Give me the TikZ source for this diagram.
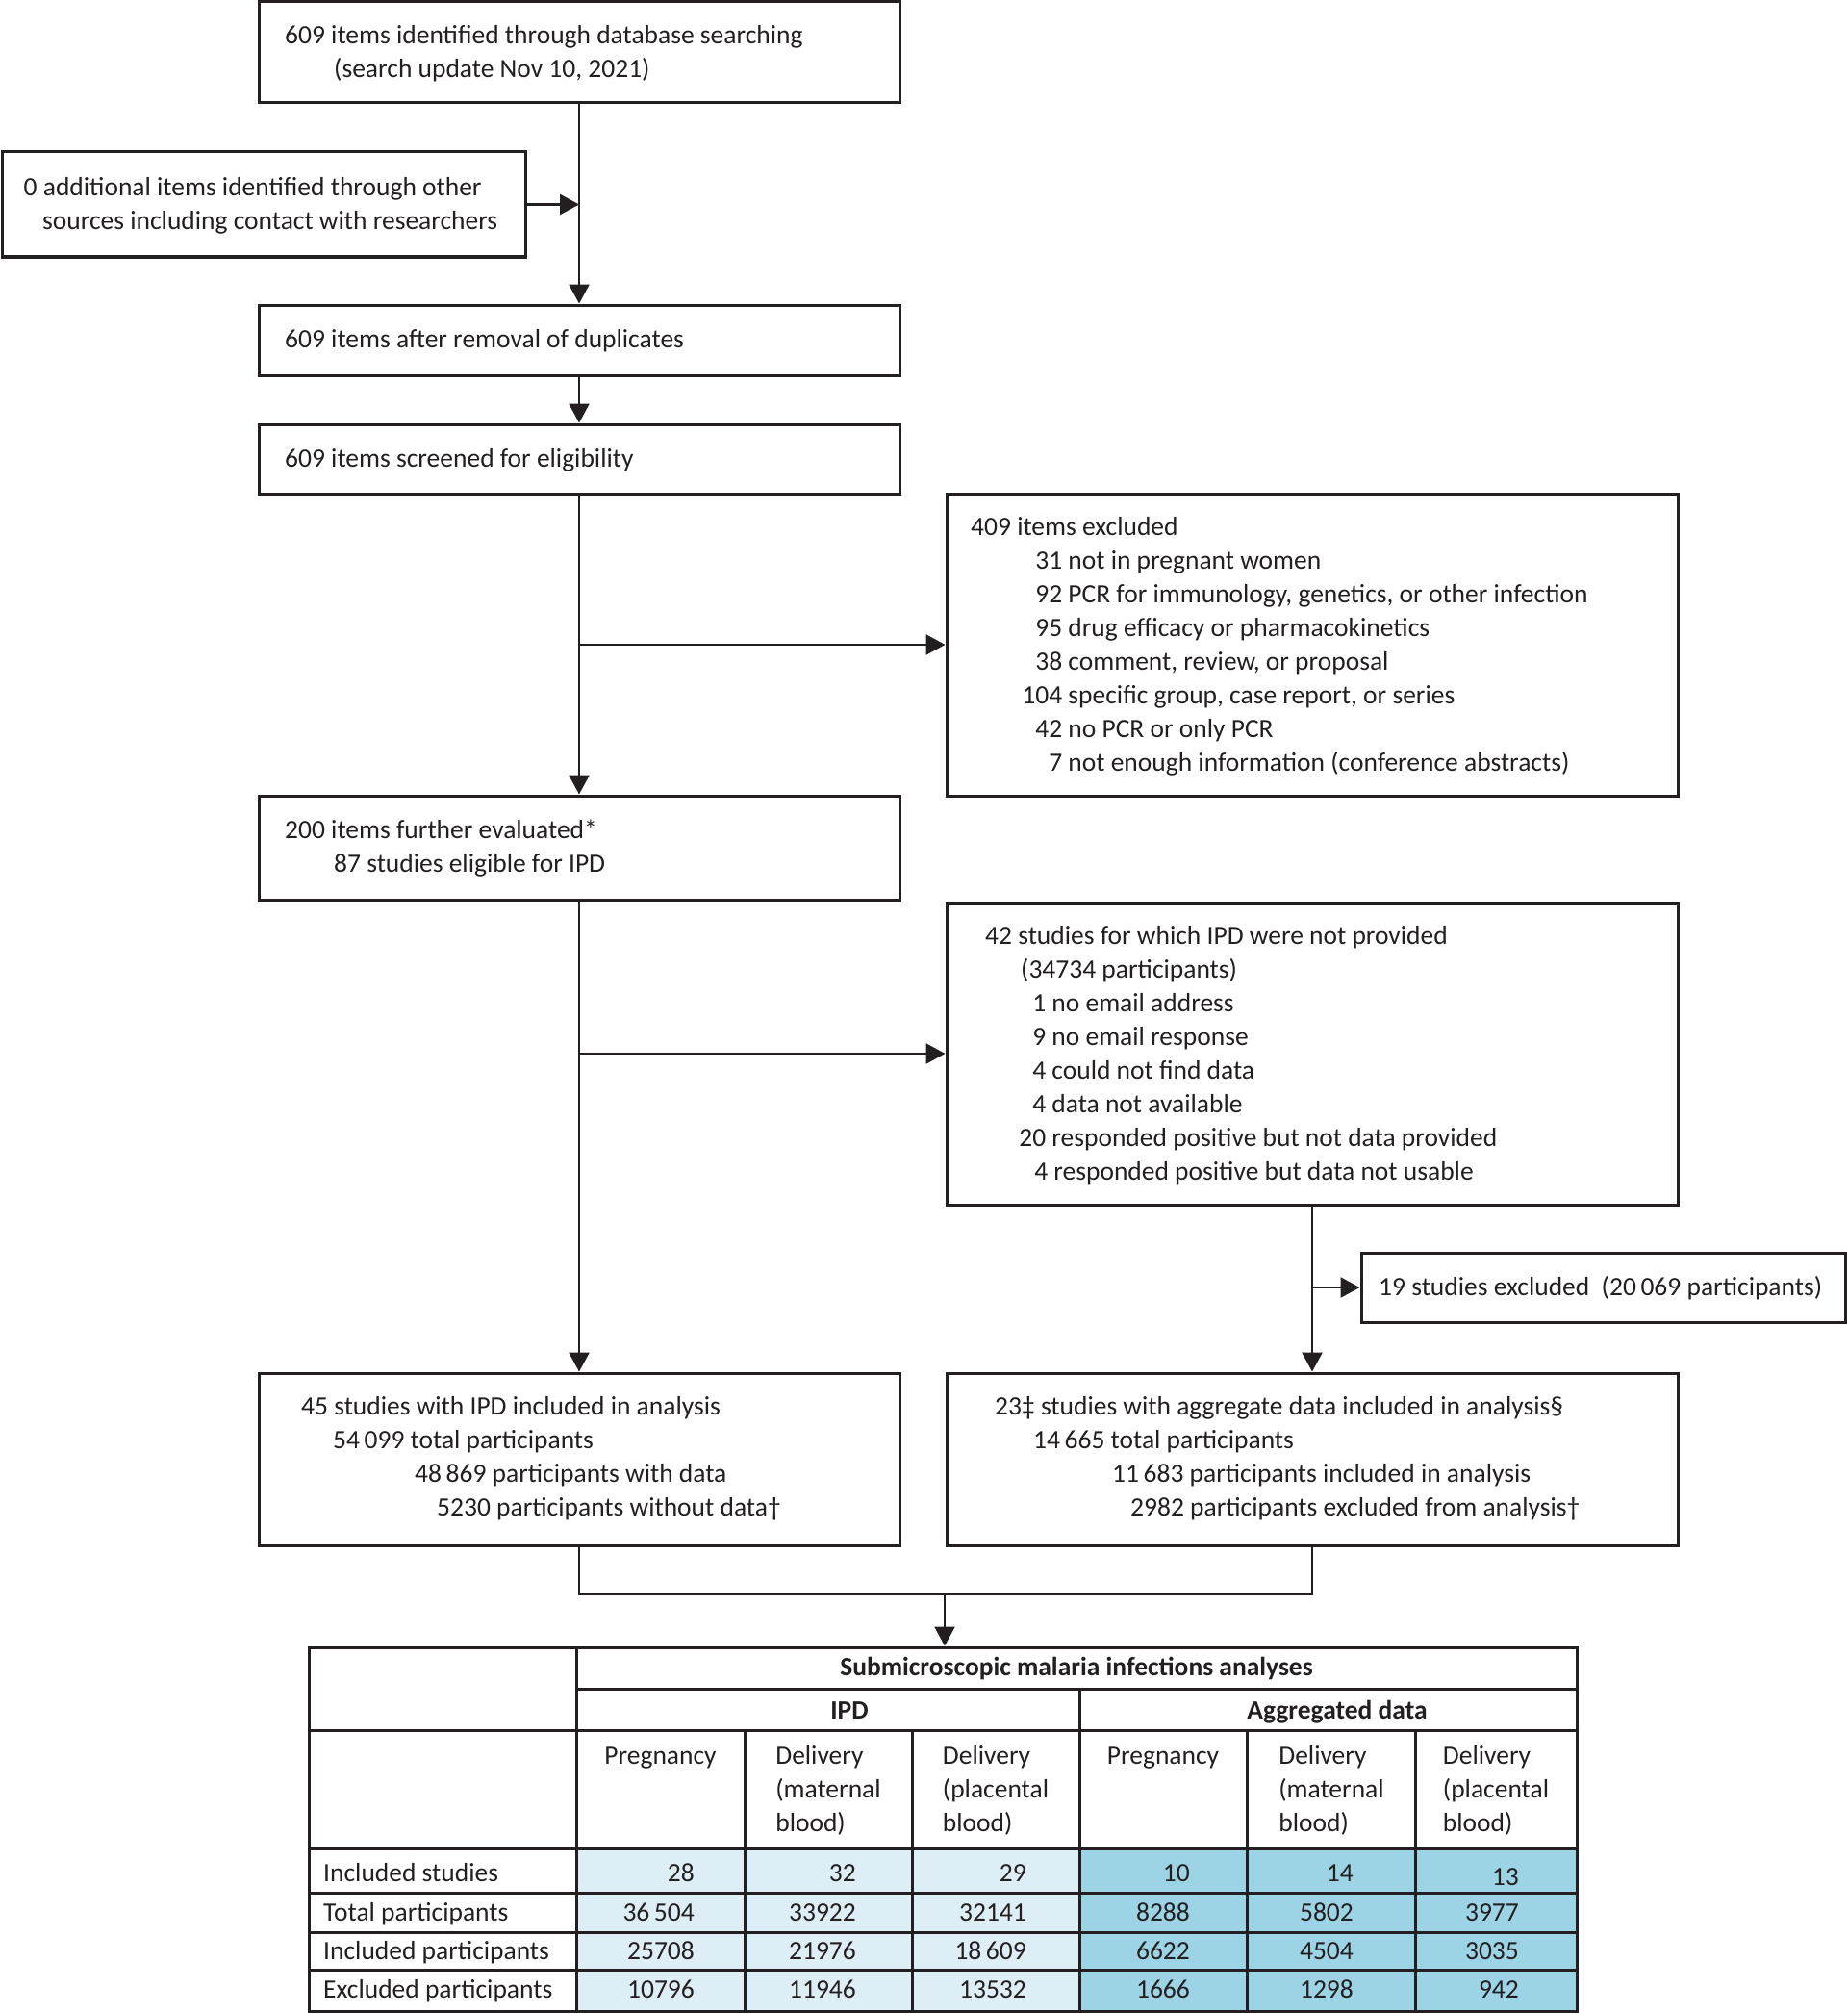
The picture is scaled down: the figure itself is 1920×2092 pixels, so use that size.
\documentclass[tikz,border=0pt]{standalone}
\usepackage{fontspec}
\setmainfont{Carlito}
\usetikzlibrary{arrows.meta,fit}
\definecolor{ink}{HTML}{231F20}
\definecolor{ipdc}{HTML}{DDEEF6}
\definecolor{aggc}{HTML}{9CD4E6}
\begin{document}
\begin{tikzpicture}[x=1pt,y=-1pt,
  font=\fontsize{27.5}{35}\selectfont,
  box/.style={draw=ink,line width=3pt,inner sep=0pt},
  lines/.style={align=left,anchor=north west,inner sep=0pt,text=ink},
  txt/.style={inner sep=0pt,text height=17pt,text depth=0pt,text=ink},
  hdr/.style={txt,font=\fontsize{27.5}{35}\selectfont\bfseries},
  colhead/.style={align=left,anchor=north,inner sep=0pt,text=ink},
  conn/.style={draw=ink,line width=2.5pt},
  arr/.style={conn,-{Triangle[length=20pt,width=21pt]}},
  grid/.style={draw=ink,line width=3pt}]

\fill[white] (0,0) rectangle (1920,2092);
\useasboundingbox (0,0) rectangle (1920,2092);

% boxes
\node[box,fit={(269,2)(935,107)}] (b1) {};
\node[box,fit={(2,158)(546,267)}] (b0) {};
\node[box,fit={(269,317)(935,390)}] (b2) {};
\node[box,fit={(269,441)(935,513)}] (b3) {};
\node[box,fit={(984,513)(1744,827)}] (b4) {};
\node[box,fit={(269,827)(935,935)}] (b5) {};
\node[box,fit={(984,938)(1744,1252)}] (b6) {};
\node[box,fit={(1415,1302)(1918,1374)}] (b7) {};
\node[box,fit={(269,1427)(935,1606)}] (b8) {};
\node[box,fit={(984,1427)(1744,1606)}] (b9) {};

% texts
\node[lines] (t1) at (296,21) {\strut 609 items identified through database searching\\
\hspace*{51pt}(search update Nov 10, 2021)};
\node[lines] (t0) at (24.5,179) {\strut 0 additional items identified through other\\
\hspace*{19.5pt}sources including contact with researchers};
\node[lines] (t2) at (296,337) {\strut 609 items after removal of duplicates};
\node[lines] (t3) at (296,461) {\strut 609 items screened for eligibility};
\node[lines] (t4) at (1009,532) {\strut 409 items excluded\\
\hspace*{35pt}\makebox[60pt][r]{31} not in pregnant women\\
\hspace*{35pt}\makebox[60pt][r]{92} PCR for immunology, genetics, or other infection\\
\hspace*{35pt}\makebox[60pt][r]{95} drug efficacy or pharmacokinetics\\
\hspace*{35pt}\makebox[60pt][r]{38} comment, review, or proposal\\
\hspace*{35pt}\makebox[60pt][r]{104} specific group, case report, or series\\
\hspace*{35pt}\makebox[60pt][r]{42} no PCR or only PCR\\
\hspace*{35pt}\makebox[60pt][r]{7} not enough information (conference abstracts)};
\node[lines] (t5) at (296,847) {\strut 200 items further evaluated*\\
\hspace*{51pt}87 studies eligible for IPD};
\node[lines] (t6) at (1024,957) {\strut 42 studies for which IPD were not provided\\
\hspace*{37pt}(34734 participants)\\
\hspace*{3pt}\makebox[60pt][r]{1} no email address\\
\hspace*{3pt}\makebox[60pt][r]{9} no email response\\
\hspace*{3pt}\makebox[60pt][r]{4} could not find data\\
\hspace*{3pt}\makebox[60pt][r]{4} data not available\\
\hspace*{3pt}\makebox[60pt][r]{20} responded positive but not data provided\\
\hspace*{5pt}\makebox[60pt][r]{4} responded positive but data not usable};
\node[txt,anchor=west] (t7) at (1433,1338) {19 studies excluded\ \ (20\,069 participants)};
\node[lines] (t8) at (313,1446) {\strut 45 studies with IPD included in analysis\\
\hspace*{33pt}54\,099 total participants\\
\hspace*{118pt}48\,869 participants with data\\
\hspace*{141pt}5230 participants without data†};
\node[lines] (t9) at (1034,1446) {\strut 23‡ studies with aggregate data included in analysis§\\
\hspace*{40pt}14\,665 total participants\\
\hspace*{122pt}11\,683 participants included in analysis\\
\hspace*{141pt}2982 participants excluded from analysis†};

% table fills and frame
\fill[ipdc] (599,1921) rectangle (1122,2090);
\fill[aggc] (1122,1921) rectangle (1639,2090);
\node[box,fit={(321,1712)(1639,2090)}] (tbl) {};
\draw[grid] (599,1755) -- (1639,1755);
\draw[grid] (321,1798) -- (1639,1798);
\draw[grid] (321,1921) -- (1639,1921);
\draw[grid] (321,1967) -- (1639,1967);
\draw[grid] (321,2008) -- (1639,2008);
\draw[grid] (321,2047) -- (1639,2047);
\draw[grid] (599,1712) -- (599,2090);
\draw[grid] (1122,1755) -- (1122,2090);
\draw[grid] (774,1798) -- (774,2090);
\draw[grid] (948,1798) -- (948,2090);
\draw[grid] (1296.5,1798) -- (1296.5,2090);
\draw[grid] (1471,1798) -- (1471,2090);

% connectors
\draw[arr] (b1.south) -- (b2.north);
\coordinate (j0) at (b1.south |- b0.east);
\draw[arr] (b0.east) -- (j0);
\draw[arr] (b2.south) -- (b3.north);
\draw[arr] (b3.south) -- (b5.north);
\coordinate (j1) at (b3.south |- b4.west);
\draw[arr] (j1) -- (b4.west);
\draw[arr] (b5.south) -- (b8.north);
\coordinate (j2) at (b5.south |- b6.west);
\draw[arr] (j2) -- (b6.west);
\draw[arr] (b6.south) -- (b9.north);
\coordinate (j3) at (b6.south |- b7.west);
\draw[arr] (j3) -- (b7.west);
\coordinate (m1) at (602,1657);
\coordinate (m3) at (982,1657);
\draw[conn] (b8.south) -- (m1) -- (m1 -| b9.south) -- (b9.south);
\draw[arr] (m3) -- (m3 |- tbl.north);

% table headers
\node[hdr] (h1) at (1119,1733) {Submicroscopic malaria infections analyses};
\node[hdr] (h2) at (883,1778) {IPD};
\node[hdr] (h3) at (1390,1778) {Aggregated data};
\node[colhead] (c2) at (686.5,1809) {\strut Pregnancy};
\node[colhead] (c3) at (861,1809) {\strut Delivery\\(maternal\\blood)};
\node[colhead] (c4) at (1035,1809) {\strut Delivery\\(placental\\blood)};
\node[colhead] (c5) at (1209,1809) {\strut Pregnancy};
\node[colhead] (c6) at (1384,1809) {\strut Delivery\\(maternal\\blood)};
\node[colhead] (c7) at (1555,1809) {\strut Delivery\\(placental\\blood)};

% row labels
\node[txt,anchor=west] (r1) at (336,1947) {Included studies};
\node[txt,anchor=west] (r2) at (336,1988) {Total participants};
\node[txt,anchor=west] (r3) at (336,2028) {Included participants};
\node[txt,anchor=west] (r4) at (336,2068) {Excluded participants};

% values
\node[txt,anchor=east] (v11) at (722,1947) {28};
\node[txt,anchor=east] (v12) at (890,1947) {32};
\node[txt,anchor=east] (v13) at (1067,1947) {29};
\node[txt,anchor=east] (v14) at (1237,1947) {10};
\node[txt,anchor=east] (v15) at (1407,1947) {14};
\node[txt,anchor=east] (v16) at (1579,1951) {13};
\node[txt,anchor=east] (v21) at (722,1988) {36\,504};
\node[txt,anchor=east] (v22) at (890,1988) {33922};
\node[txt,anchor=east] (v23) at (1067,1988) {32141};
\node[txt,anchor=east] (v24) at (1237,1988) {8288};
\node[txt,anchor=east] (v25) at (1407,1988) {5802};
\node[txt,anchor=east] (v26) at (1579,1988) {3977};
\node[txt,anchor=east] (v31) at (722,2028) {25708};
\node[txt,anchor=east] (v32) at (890,2028) {21976};
\node[txt,anchor=east] (v33) at (1067,2028) {18\,609};
\node[txt,anchor=east] (v34) at (1237,2028) {6622};
\node[txt,anchor=east] (v35) at (1407,2028) {4504};
\node[txt,anchor=east] (v36) at (1579,2028) {3035};
\node[txt,anchor=east] (v41) at (722,2068) {10796};
\node[txt,anchor=east] (v42) at (890,2068) {11946};
\node[txt,anchor=east] (v43) at (1067,2068) {13532};
\node[txt,anchor=east] (v44) at (1237,2068) {1666};
\node[txt,anchor=east] (v45) at (1407,2068) {1298};
\node[txt,anchor=east] (v46) at (1579,2068) {942};
\end{tikzpicture}
\end{document}
